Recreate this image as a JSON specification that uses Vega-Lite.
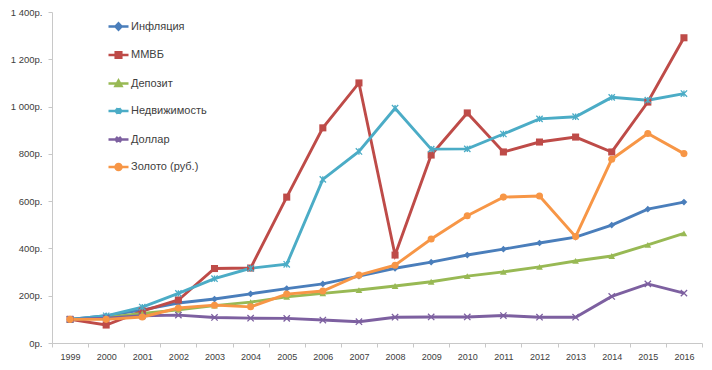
{
  "$schema": "https://vega.github.io/schema/vega-lite/v6.json",
  "autosize": "none",
  "width": 650,
  "height": 331,
  "padding": {"left": 52, "top": 12, "right": 10, "bottom": 27},
  "background": "white",
  "config": {"view": {"stroke": null}, "font": "Liberation Sans"},
  "datasets": {
    "wide": [
      {"year": "1999", "a": 100, "b": 100, "c": 100, "d": 100, "e": 100, "f": 100},
      {"year": "2000", "a": 115, "b": 76, "c": 108, "d": 115, "e": 105, "f": 100},
      {"year": "2001", "a": 140, "b": 135, "c": 125, "d": 152, "e": 115, "f": 110},
      {"year": "2002", "a": 169, "b": 182, "c": 140, "d": 210, "e": 118, "f": 148},
      {"year": "2003", "a": 186, "b": 315, "c": 158, "d": 272, "e": 108, "f": 160},
      {"year": "2004", "a": 208, "b": 317, "c": 173, "d": 316, "e": 105, "f": 153},
      {"year": "2005", "a": 230, "b": 617, "c": 195, "d": 333, "e": 104, "f": 207},
      {"year": "2006", "a": 250, "b": 910, "c": 210, "d": 692, "e": 97, "f": 220},
      {"year": "2007", "a": 283, "b": 1100, "c": 224, "d": 810, "e": 90, "f": 287},
      {"year": "2008", "a": 316, "b": 372, "c": 241, "d": 993, "e": 109, "f": 329},
      {"year": "2009", "a": 342, "b": 795, "c": 259, "d": 820, "e": 110, "f": 440},
      {"year": "2010", "a": 372, "b": 973, "c": 283, "d": 821, "e": 110, "f": 538},
      {"year": "2011", "a": 397, "b": 808, "c": 301, "d": 884, "e": 116, "f": 617},
      {"year": "2012", "a": 423, "b": 850, "c": 322, "d": 948, "e": 109, "f": 622},
      {"year": "2013", "a": 448, "b": 871, "c": 347, "d": 957, "e": 109, "f": 450},
      {"year": "2014", "a": 499, "b": 808, "c": 368, "d": 1039, "e": 197, "f": 777},
      {"year": "2015", "a": 566, "b": 1019, "c": 415, "d": 1027, "e": 250, "f": 886},
      {"year": "2016", "a": 596, "b": 1291, "c": 464, "d": 1055, "e": 211, "f": 801}
    ],
    "names": [
      {"key": "a", "series": "Инфляция"},
      {"key": "b", "series": "ММВБ"},
      {"key": "c", "series": "Депозит"},
      {"key": "d", "series": "Недвижимость"},
      {"key": "e", "series": "Доллар"},
      {"key": "f", "series": "Золото (руб.)"}
    ]
  },
  "data": {"name": "wide"},
  "transform": [
    {"fold": ["a", "b", "c", "d", "e", "f"], "as": ["key", "value"]},
    {"lookup": "key", "from": {"data": {"name": "names"}, "key": "key", "fields": ["series"]}}
  ],
  "encoding": {
    "x": {
      "field": "year", "type": "ordinal",
      "scale": {"type": "band", "paddingInner": 0, "paddingOuter": 0},
      "axis": {"title": null, "labelAngle": 0, "tickBand": "extent", "domainColor": "#c8c8c8", "tickColor": "#c8c8c8", "tickSize": 4, "labelFontSize": 9, "labelColor": "#404040", "labelPadding": 5, "grid": false}
    },
    "y": {
      "field": "value", "type": "quantitative",
      "scale": {"domain": [0, 1400], "nice": false},
      "axis": {"title": null, "values": [0, 200, 400, 600, 800, 1000, 1200, 1400], "labelExpr": "replace(format(datum.value, ',d'), ',', ' ') + 'р.'", "grid": false, "domainColor": "#c8c8c8", "tickColor": "#c8c8c8", "tickSize": 4, "labelFontSize": 9.5, "labelColor": "#404040", "labelPadding": 6}
    },
    "color": {
      "field": "series", "type": "nominal",
      "scale": {
        "domain": ["Инфляция", "ММВБ", "Депозит", "Недвижимость", "Доллар", "Золото (руб.)"],
        "range": ["#4A7EBB", "#BE4B48", "#98B954", "#4BACC6", "#7D60A0", "#F79646"]
      },
      "legend": {
        "title": null, "orient": "none", "legendX": 55, "legendY": 3, "padding": 0,
        "symbolType": "stroke", "symbolStrokeWidth": 2.5, "symbolSize": 400,
        "labelFontSize": 11, "labelColor": "#404040", "rowPadding": 8.5, "labelOffset": 1,
        "encode": {
          "symbols": {
            "update": {
              "shape": {"signal": "datum.value == 'Инфляция' ? 'M-1,0L1,0M0,-0.32L0.3,0L0,0.32L-0.3,0Z' : datum.value == 'ММВБ' ? 'M-1,0L1,0M-0.28,-0.28L0.28,-0.28L0.28,0.28L-0.28,0.28Z' : datum.value == 'Депозит' ? 'M-1,0L1,0M0,-0.3L0.3,0.25L-0.3,0.25Z' : datum.value == 'Недвижимость' ? 'M-1,0L1,0M-0.25,-0.25L0.25,0.25M-0.25,0.25L0.25,-0.25M0,-0.3L0,0.3' : datum.value == 'Доллар' ? 'M-1,0L1,0M-0.25,-0.25L0.25,0.25M-0.25,0.25L0.25,-0.25' : 'M-1,0L1,0M-0.3,0A0.3,0.3,0,1,1,0.3,0A0.3,0.3,0,1,1,-0.3,0Z'"},
              "fill": {"scale": "color", "field": "value"},
              "stroke": {"scale": "color", "field": "value"},
              "strokeWidth": {"value": 2.5},
              "opacity": {"value": 1}
            }
          }
        }
      }
    }
  },
  "layer": [
    {"mark": {"type": "line", "strokeWidth": 2.9}},
    {"transform": [{"filter": "datum.series == 'Инфляция'"}], "mark": {"type": "point", "filled": true, "size": 45, "opacity": 1, "shape": "diamond"}},
    {"transform": [{"filter": "datum.series == 'ММВБ'"}], "mark": {"type": "point", "filled": true, "size": 50, "opacity": 1, "shape": "square"}},
    {"transform": [{"filter": "datum.series == 'Депозит'"}], "mark": {"type": "point", "filled": true, "size": 45, "opacity": 1, "shape": "triangle-up"}},
    {"transform": [{"filter": "datum.series == 'Недвижимость'"}], "mark": {"type": "point", "filled": true, "size": 40, "opacity": 1, "stroke": "#4BACC6", "strokeWidth": 1.3, "shape": "M-1,-1L1,1M-1,1L1,-1M0,-1L0,1"}},
    {"transform": [{"filter": "datum.series == 'Доллар'"}], "mark": {"type": "point", "filled": true, "size": 40, "opacity": 1, "stroke": "#7D60A0", "strokeWidth": 1.3, "shape": "M-1,-1L1,1M-1,1L1,-1"}},
    {"transform": [{"filter": "datum.series == 'Золото (руб.)'"}], "mark": {"type": "point", "filled": true, "size": 50, "opacity": 1, "shape": "circle"}}
  ]
}
